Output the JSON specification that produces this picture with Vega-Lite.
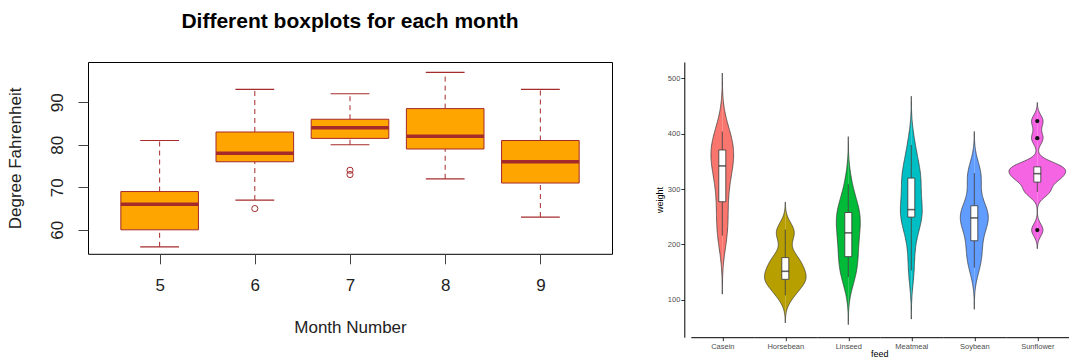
{
  "$schema": "https://vega.github.io/schema/vega-lite/v6.json",
  "padding": {"left": 5, "top": 10, "right": 0, "bottom": 0},
  "config": {
    "view": {"stroke": null},
    "font": "Liberation Sans",
    "axis": {"grid": false}
  },
  "datasets": {
    "airbox": [
      {"month": 5, "lower": 56, "q1": 60, "median": 66, "q3": 69, "upper": 81},
      {"month": 6, "lower": 67, "q1": 76, "median": 78, "q3": 83, "upper": 93},
      {"month": 7, "lower": 80, "q1": 81.5, "median": 84, "q3": 86, "upper": 92},
      {"month": 8, "lower": 72, "q1": 79, "median": 82, "q3": 88.5, "upper": 97},
      {"month": 9, "lower": 63, "q1": 71, "median": 76, "q3": 81, "upper": 93}
    ],
    "airout": [
      {"month": 6, "temp": 65},
      {"month": 7, "temp": 73},
      {"month": 7, "temp": 74}
    ],
    "chick": [
      {"feed": "Horsebean", "weight": 179}, {"feed": "Horsebean", "weight": 160}, {"feed": "Horsebean", "weight": 136}, {"feed": "Horsebean", "weight": 227}, {"feed": "Horsebean", "weight": 217},
      {"feed": "Horsebean", "weight": 168}, {"feed": "Horsebean", "weight": 108}, {"feed": "Horsebean", "weight": 124}, {"feed": "Horsebean", "weight": 143}, {"feed": "Horsebean", "weight": 140},
      {"feed": "Linseed", "weight": 309}, {"feed": "Linseed", "weight": 229}, {"feed": "Linseed", "weight": 181}, {"feed": "Linseed", "weight": 141}, {"feed": "Linseed", "weight": 260}, {"feed": "Linseed", "weight": 203},
      {"feed": "Linseed", "weight": 148}, {"feed": "Linseed", "weight": 169}, {"feed": "Linseed", "weight": 213}, {"feed": "Linseed", "weight": 257}, {"feed": "Linseed", "weight": 244}, {"feed": "Linseed", "weight": 271},
      {"feed": "Soybean", "weight": 243}, {"feed": "Soybean", "weight": 230}, {"feed": "Soybean", "weight": 248}, {"feed": "Soybean", "weight": 327}, {"feed": "Soybean", "weight": 329}, {"feed": "Soybean", "weight": 250}, {"feed": "Soybean", "weight": 193},
      {"feed": "Soybean", "weight": 271}, {"feed": "Soybean", "weight": 316}, {"feed": "Soybean", "weight": 267}, {"feed": "Soybean", "weight": 199}, {"feed": "Soybean", "weight": 171}, {"feed": "Soybean", "weight": 158}, {"feed": "Soybean", "weight": 248},
      {"feed": "Sunflower", "weight": 423}, {"feed": "Sunflower", "weight": 340}, {"feed": "Sunflower", "weight": 392}, {"feed": "Sunflower", "weight": 339}, {"feed": "Sunflower", "weight": 341}, {"feed": "Sunflower", "weight": 226},
      {"feed": "Sunflower", "weight": 320}, {"feed": "Sunflower", "weight": 295}, {"feed": "Sunflower", "weight": 334}, {"feed": "Sunflower", "weight": 322}, {"feed": "Sunflower", "weight": 297}, {"feed": "Sunflower", "weight": 318},
      {"feed": "Meatmeal", "weight": 325}, {"feed": "Meatmeal", "weight": 257}, {"feed": "Meatmeal", "weight": 303}, {"feed": "Meatmeal", "weight": 315}, {"feed": "Meatmeal", "weight": 380}, {"feed": "Meatmeal", "weight": 153},
      {"feed": "Meatmeal", "weight": 263}, {"feed": "Meatmeal", "weight": 242}, {"feed": "Meatmeal", "weight": 206}, {"feed": "Meatmeal", "weight": 344}, {"feed": "Meatmeal", "weight": 258},
      {"feed": "Casein", "weight": 368}, {"feed": "Casein", "weight": 390}, {"feed": "Casein", "weight": 379}, {"feed": "Casein", "weight": 260}, {"feed": "Casein", "weight": 404}, {"feed": "Casein", "weight": 318},
      {"feed": "Casein", "weight": 352}, {"feed": "Casein", "weight": 359}, {"feed": "Casein", "weight": 216}, {"feed": "Casein", "weight": 222}, {"feed": "Casein", "weight": 283}, {"feed": "Casein", "weight": 332}
    ]
  },
  "bounds": "flush",
  "spacing": 78.8,
  "hconcat": [
    {
      "width": 524,
      "height": 191.8,
      "view": {"stroke": "black", "strokeWidth": 1},
      "title": {"text": "Different boxplots for each month", "fontSize": 21, "fontWeight": "bold", "font": "Liberation Sans", "color": "black", "frame": "group", "anchor": "middle", "baseline": "alphabetic", "offset": 13},
      "encoding": {
        "x": {"field": "month", "type": "quantitative", "title": "Month Number",
          "scale": {"domain": [4.3, 9.7], "nice": false, "zero": false},
          "axis": {"values": [5, 6, 7, 8, 9], "domain": false, "tickSize": 10, "tickColor": "#444", "labelFontSize": 17, "labelColor": "#222", "labelPadding": 14, "labelFlush": false, "titleFontSize": 17, "titleFontWeight": "normal", "titleColor": "#222", "titlePadding": 26}}
      },
      "layer": [
        {"data": {"name": "airbox"},
          "mark": {"type": "rule", "color": "#A52A2A", "strokeDash": [5, 4], "strokeWidth": 1},
          "encoding": {
            "y": {"field": "q3", "type": "quantitative", "title": "Degree Fahrenheit",
              "scale": {"domain": [54.36, 99.46], "nice": false, "zero": false},
              "axis": {"values": [60, 70, 80, 90], "domain": false, "tickSize": 10, "tickColor": "#444", "labelAngle": -90, "labelAlign": "center", "labelBaseline": "alphabetic", "labelPadding": 16, "labelFontSize": 17, "labelColor": "#222", "titleFontSize": 17, "titleFontWeight": "normal", "titleColor": "#222", "titlePadding": 24}},
            "y2": {"field": "upper"}}},
        {"data": {"name": "airbox"},
          "mark": {"type": "rule", "color": "#A52A2A", "strokeDash": [5, 4], "strokeWidth": 1},
          "encoding": {"y": {"field": "lower", "type": "quantitative", "title": "Degree Fahrenheit"}, "y2": {"field": "q1"}}},
        {"data": {"name": "airbox"},
          "mark": {"type": "bar", "width": 77.6, "fill": "#FFA500", "stroke": "#A52A2A", "strokeWidth": 1, "opacity": 1},
          "encoding": {"y": {"field": "q1", "type": "quantitative", "title": "Degree Fahrenheit"}, "y2": {"field": "q3"}}},
        {"data": {"name": "airbox"},
          "mark": {"type": "tick", "orient": "horizontal", "size": 77.6, "thickness": 3.5, "color": "#A52A2A", "opacity": 1},
          "encoding": {"y": {"field": "median", "type": "quantitative", "title": "Degree Fahrenheit"}}},
        {"data": {"name": "airbox"},
          "mark": {"type": "tick", "orient": "horizontal", "size": 38.8, "thickness": 1.2, "color": "#A52A2A", "opacity": 1},
          "encoding": {"y": {"field": "upper", "type": "quantitative", "title": "Degree Fahrenheit"}}},
        {"data": {"name": "airbox"},
          "mark": {"type": "tick", "orient": "horizontal", "size": 38.8, "thickness": 1.2, "color": "#A52A2A", "opacity": 1},
          "encoding": {"y": {"field": "lower", "type": "quantitative", "title": "Degree Fahrenheit"}}},
        {"data": {"name": "airout"},
          "mark": {"type": "point", "shape": "circle", "filled": false, "size": 38, "stroke": "#A52A2A", "strokeWidth": 1, "opacity": 1},
          "encoding": {"y": {"field": "temp", "type": "quantitative", "title": "Degree Fahrenheit"}}}
      ]
    },
    {
      "data": {"name": "chick"},
      "bounds": "flush",
      "spacing": 0,
      "title": {"text": "feed", "orient": "bottom", "fontSize": 9, "fontWeight": "normal", "color": "black", "font": "Liberation Sans", "offset": 0, "anchor": "middle", "frame": "group", "dx": 189},
      "hconcat": [
        {
          "width": 63, "height": 275.2,
          "transform": [{"filter": "datum.feed == 'Casein'"}],
          "resolve": {"scale": {"x": "independent"}},
          "layer": [
            {"transform": [{"density": "weight", "bandwidth": 35.28, "extent": [110.2, 509.8], "steps": 200}],
              "mark": {"type": "area", "orient": "horizontal", "color": "#F8766D", "opacity": 1},
              "encoding": {
                "y": {"field": "value", "type": "quantitative", "title": "weight", "scale": {"domain": [32.4, 529.8], "nice": false, "zero": false},
                  "axis": {"values": [100, 200, 300, 400, 500], "offset": 6.5, "domainColor": "black", "domainWidth": 1, "tickColor": "#333", "tickSize": 3.5, "labelFontSize": 7.5, "labelColor": "#4d4d4d", "labelPadding": 1, "titleFontSize": 9, "titleFontWeight": "normal", "titleColor": "black", "titlePadding": 3}},
                "x": {"field": "density", "type": "quantitative", "stack": null, "title": "Casein", "scale": {"domain": [-0.0165, 0.0165], "nice": false, "zero": false},
                  "axis": {"values": [0], "labels": false, "tickSize": 3.5, "tickColor": "#333", "domainColor": "black", "domainWidth": 1, "titleFontSize": 7.5, "titleColor": "#4d4d4d", "titleFontWeight": "normal", "titlePadding": 1}}}},
            {"transform": [{"density": "weight", "bandwidth": 35.28, "extent": [110.2, 509.8], "steps": 200}],
              "mark": {"type": "area", "orient": "horizontal", "color": "#F8766D", "opacity": 1},
              "encoding": {"y": {"field": "value", "type": "quantitative"}, "x": {"field": "density", "type": "quantitative", "stack": null, "scale": {"domain": [-0.0165, 0.0165], "nice": false, "zero": false, "reverse": true}, "axis": null}}},
            {"transform": [{"density": "weight", "bandwidth": 35.28, "extent": [110.2, 509.8], "steps": 200}],
              "mark": {"type": "line", "color": "#333333", "strokeWidth": 0.7},
              "encoding": {"y": {"field": "value", "type": "quantitative"}, "x": {"field": "density", "type": "quantitative", "scale": {"domain": [-0.0165, 0.0165], "nice": false, "zero": false}, "axis": null}, "order": {"field": "value", "type": "quantitative"}}},
            {"transform": [{"density": "weight", "bandwidth": 35.28, "extent": [110.2, 509.8], "steps": 200}],
              "mark": {"type": "line", "color": "#333333", "strokeWidth": 0.7},
              "encoding": {"y": {"field": "value", "type": "quantitative"}, "x": {"field": "density", "type": "quantitative", "scale": {"domain": [-0.0165, 0.0165], "nice": false, "zero": false, "reverse": true}, "axis": null}, "order": {"field": "value", "type": "quantitative"}}},
            {"mark": {"type": "boxplot", "extent": 1.5, "size": 7, "box": {"fill": "white", "stroke": "#333333", "strokeWidth": 0.8}, "median": {"color": "#222222", "thickness": 1.6}, "rule": {"color": "#333333", "strokeWidth": 0.8}, "outliers": {"color": "#111111", "filled": true, "size": 18, "opacity": 1}},
              "encoding": {"y": {"field": "weight", "type": "quantitative"}}}
          ]
        },
        {
          "width": 63, "height": 275.2,
          "transform": [{"filter": "datum.feed == 'Horsebean'"}],
          "resolve": {"scale": {"x": "independent"}},
          "layer": [
            {"transform": [{"density": "weight", "bandwidth": 16.63, "extent": [58.1, 276.9], "steps": 200}],
              "mark": {"type": "area", "orient": "horizontal", "color": "#B79F00", "opacity": 1},
              "encoding": {
                "y": {"field": "value", "type": "quantitative", "scale": {"domain": [32.4, 529.8], "nice": false, "zero": false}, "axis": null},
                "x": {"field": "density", "type": "quantitative", "stack": null, "title": "Horsebean", "scale": {"domain": [-0.0165, 0.0165], "nice": false, "zero": false},
                  "axis": {"values": [0], "labels": false, "tickSize": 3.5, "tickColor": "#333", "domainColor": "black", "domainWidth": 1, "titleFontSize": 7.5, "titleColor": "#4d4d4d", "titleFontWeight": "normal", "titlePadding": 1}}}},
            {"transform": [{"density": "weight", "bandwidth": 16.63, "extent": [58.1, 276.9], "steps": 200}],
              "mark": {"type": "area", "orient": "horizontal", "color": "#B79F00", "opacity": 1},
              "encoding": {"y": {"field": "value", "type": "quantitative"}, "x": {"field": "density", "type": "quantitative", "stack": null, "scale": {"domain": [-0.0165, 0.0165], "nice": false, "zero": false, "reverse": true}, "axis": null}}},
            {"transform": [{"density": "weight", "bandwidth": 16.63, "extent": [58.1, 276.9], "steps": 200}],
              "mark": {"type": "line", "color": "#333333", "strokeWidth": 0.7},
              "encoding": {"y": {"field": "value", "type": "quantitative"}, "x": {"field": "density", "type": "quantitative", "scale": {"domain": [-0.0165, 0.0165], "nice": false, "zero": false}, "axis": null}, "order": {"field": "value", "type": "quantitative"}}},
            {"transform": [{"density": "weight", "bandwidth": 16.63, "extent": [58.1, 276.9], "steps": 200}],
              "mark": {"type": "line", "color": "#333333", "strokeWidth": 0.7},
              "encoding": {"y": {"field": "value", "type": "quantitative"}, "x": {"field": "density", "type": "quantitative", "scale": {"domain": [-0.0165, 0.0165], "nice": false, "zero": false, "reverse": true}, "axis": null}, "order": {"field": "value", "type": "quantitative"}}},
            {"mark": {"type": "boxplot", "extent": 1.5, "size": 7, "box": {"fill": "white", "stroke": "#333333", "strokeWidth": 0.8}, "median": {"color": "#222222", "thickness": 1.6}, "rule": {"color": "#333333", "strokeWidth": 0.8}, "outliers": {"color": "#111111", "filled": true, "size": 18, "opacity": 1}},
              "encoding": {"y": {"field": "weight", "type": "quantitative"}}}
          ]
        },
        {
          "width": 63, "height": 275.2,
          "transform": [{"filter": "datum.feed == 'Linseed'"}],
          "resolve": {"scale": {"x": "independent"}},
          "layer": [
            {"transform": [{"density": "weight", "bandwidth": 28.62, "extent": [55.1, 394.9], "steps": 200}],
              "mark": {"type": "area", "orient": "horizontal", "color": "#00BA38", "opacity": 1},
              "encoding": {
                "y": {"field": "value", "type": "quantitative", "scale": {"domain": [32.4, 529.8], "nice": false, "zero": false}, "axis": null},
                "x": {"field": "density", "type": "quantitative", "stack": null, "title": "Linseed", "scale": {"domain": [-0.0165, 0.0165], "nice": false, "zero": false},
                  "axis": {"values": [0], "labels": false, "tickSize": 3.5, "tickColor": "#333", "domainColor": "black", "domainWidth": 1, "titleFontSize": 7.5, "titleColor": "#4d4d4d", "titleFontWeight": "normal", "titlePadding": 1}}}},
            {"transform": [{"density": "weight", "bandwidth": 28.62, "extent": [55.1, 394.9], "steps": 200}],
              "mark": {"type": "area", "orient": "horizontal", "color": "#00BA38", "opacity": 1},
              "encoding": {"y": {"field": "value", "type": "quantitative"}, "x": {"field": "density", "type": "quantitative", "stack": null, "scale": {"domain": [-0.0165, 0.0165], "nice": false, "zero": false, "reverse": true}, "axis": null}}},
            {"transform": [{"density": "weight", "bandwidth": 28.62, "extent": [55.1, 394.9], "steps": 200}],
              "mark": {"type": "line", "color": "#333333", "strokeWidth": 0.7},
              "encoding": {"y": {"field": "value", "type": "quantitative"}, "x": {"field": "density", "type": "quantitative", "scale": {"domain": [-0.0165, 0.0165], "nice": false, "zero": false}, "axis": null}, "order": {"field": "value", "type": "quantitative"}}},
            {"transform": [{"density": "weight", "bandwidth": 28.62, "extent": [55.1, 394.9], "steps": 200}],
              "mark": {"type": "line", "color": "#333333", "strokeWidth": 0.7},
              "encoding": {"y": {"field": "value", "type": "quantitative"}, "x": {"field": "density", "type": "quantitative", "scale": {"domain": [-0.0165, 0.0165], "nice": false, "zero": false, "reverse": true}, "axis": null}, "order": {"field": "value", "type": "quantitative"}}},
            {"mark": {"type": "boxplot", "extent": 1.5, "size": 7, "box": {"fill": "white", "stroke": "#333333", "strokeWidth": 0.8}, "median": {"color": "#222222", "thickness": 1.6}, "rule": {"color": "#333333", "strokeWidth": 0.8}, "outliers": {"color": "#111111", "filled": true, "size": 18, "opacity": 1}},
              "encoding": {"y": {"field": "weight", "type": "quantitative"}}}
          ]
        },
        {
          "width": 63, "height": 275.2,
          "transform": [{"filter": "datum.feed == 'Meatmeal'"}],
          "resolve": {"scale": {"x": "independent"}},
          "layer": [
            {"transform": [{"density": "weight", "bandwidth": 29.31, "extent": [65.1, 467.9], "steps": 200}],
              "mark": {"type": "area", "orient": "horizontal", "color": "#00BFC4", "opacity": 1},
              "encoding": {
                "y": {"field": "value", "type": "quantitative", "scale": {"domain": [32.4, 529.8], "nice": false, "zero": false}, "axis": null},
                "x": {"field": "density", "type": "quantitative", "stack": null, "title": "Meatmeal", "scale": {"domain": [-0.0165, 0.0165], "nice": false, "zero": false},
                  "axis": {"values": [0], "labels": false, "tickSize": 3.5, "tickColor": "#333", "domainColor": "black", "domainWidth": 1, "titleFontSize": 7.5, "titleColor": "#4d4d4d", "titleFontWeight": "normal", "titlePadding": 1}}}},
            {"transform": [{"density": "weight", "bandwidth": 29.31, "extent": [65.1, 467.9], "steps": 200}],
              "mark": {"type": "area", "orient": "horizontal", "color": "#00BFC4", "opacity": 1},
              "encoding": {"y": {"field": "value", "type": "quantitative"}, "x": {"field": "density", "type": "quantitative", "stack": null, "scale": {"domain": [-0.0165, 0.0165], "nice": false, "zero": false, "reverse": true}, "axis": null}}},
            {"transform": [{"density": "weight", "bandwidth": 29.31, "extent": [65.1, 467.9], "steps": 200}],
              "mark": {"type": "line", "color": "#333333", "strokeWidth": 0.7},
              "encoding": {"y": {"field": "value", "type": "quantitative"}, "x": {"field": "density", "type": "quantitative", "scale": {"domain": [-0.0165, 0.0165], "nice": false, "zero": false}, "axis": null}, "order": {"field": "value", "type": "quantitative"}}},
            {"transform": [{"density": "weight", "bandwidth": 29.31, "extent": [65.1, 467.9], "steps": 200}],
              "mark": {"type": "line", "color": "#333333", "strokeWidth": 0.7},
              "encoding": {"y": {"field": "value", "type": "quantitative"}, "x": {"field": "density", "type": "quantitative", "scale": {"domain": [-0.0165, 0.0165], "nice": false, "zero": false, "reverse": true}, "axis": null}, "order": {"field": "value", "type": "quantitative"}}},
            {"mark": {"type": "boxplot", "extent": 1.5, "size": 7, "box": {"fill": "white", "stroke": "#333333", "strokeWidth": 0.8}, "median": {"color": "#222222", "thickness": 1.6}, "rule": {"color": "#333333", "strokeWidth": 0.8}, "outliers": {"color": "#111111", "filled": true, "size": 18, "opacity": 1}},
              "encoding": {"y": {"field": "weight", "type": "quantitative"}}}
          ]
        },
        {
          "width": 63, "height": 275.2,
          "transform": [{"filter": "datum.feed == 'Soybean'"}],
          "resolve": {"scale": {"x": "independent"}},
          "layer": [
            {"transform": [{"density": "weight", "bandwidth": 25.06, "extent": [82.8, 404.2], "steps": 200}],
              "mark": {"type": "area", "orient": "horizontal", "color": "#619CFF", "opacity": 1},
              "encoding": {
                "y": {"field": "value", "type": "quantitative", "scale": {"domain": [32.4, 529.8], "nice": false, "zero": false}, "axis": null},
                "x": {"field": "density", "type": "quantitative", "stack": null, "title": "Soybean", "scale": {"domain": [-0.0165, 0.0165], "nice": false, "zero": false},
                  "axis": {"values": [0], "labels": false, "tickSize": 3.5, "tickColor": "#333", "domainColor": "black", "domainWidth": 1, "titleFontSize": 7.5, "titleColor": "#4d4d4d", "titleFontWeight": "normal", "titlePadding": 1}}}},
            {"transform": [{"density": "weight", "bandwidth": 25.06, "extent": [82.8, 404.2], "steps": 200}],
              "mark": {"type": "area", "orient": "horizontal", "color": "#619CFF", "opacity": 1},
              "encoding": {"y": {"field": "value", "type": "quantitative"}, "x": {"field": "density", "type": "quantitative", "stack": null, "scale": {"domain": [-0.0165, 0.0165], "nice": false, "zero": false, "reverse": true}, "axis": null}}},
            {"transform": [{"density": "weight", "bandwidth": 25.06, "extent": [82.8, 404.2], "steps": 200}],
              "mark": {"type": "line", "color": "#333333", "strokeWidth": 0.7},
              "encoding": {"y": {"field": "value", "type": "quantitative"}, "x": {"field": "density", "type": "quantitative", "scale": {"domain": [-0.0165, 0.0165], "nice": false, "zero": false}, "axis": null}, "order": {"field": "value", "type": "quantitative"}}},
            {"transform": [{"density": "weight", "bandwidth": 25.06, "extent": [82.8, 404.2], "steps": 200}],
              "mark": {"type": "line", "color": "#333333", "strokeWidth": 0.7},
              "encoding": {"y": {"field": "value", "type": "quantitative"}, "x": {"field": "density", "type": "quantitative", "scale": {"domain": [-0.0165, 0.0165], "nice": false, "zero": false, "reverse": true}, "axis": null}, "order": {"field": "value", "type": "quantitative"}}},
            {"mark": {"type": "boxplot", "extent": 1.5, "size": 7, "box": {"fill": "white", "stroke": "#333333", "strokeWidth": 0.8}, "median": {"color": "#222222", "thickness": 1.6}, "rule": {"color": "#333333", "strokeWidth": 0.8}, "outliers": {"color": "#111111", "filled": true, "size": 18, "opacity": 1}},
              "encoding": {"y": {"field": "weight", "type": "quantitative"}}}
          ]
        },
        {
          "width": 63, "height": 275.2,
          "transform": [{"filter": "datum.feed == 'Sunflower'"}],
          "resolve": {"scale": {"x": "independent"}},
          "layer": [
            {"transform": [{"density": "weight", "bandwidth": 11.24, "extent": [192.3, 456.7], "steps": 200}],
              "mark": {"type": "area", "orient": "horizontal", "color": "#F564E3", "opacity": 1},
              "encoding": {
                "y": {"field": "value", "type": "quantitative", "scale": {"domain": [32.4, 529.8], "nice": false, "zero": false}, "axis": null},
                "x": {"field": "density", "type": "quantitative", "stack": null, "title": "Sunflower", "scale": {"domain": [-0.0165, 0.0165], "nice": false, "zero": false},
                  "axis": {"values": [0], "labels": false, "tickSize": 3.5, "tickColor": "#333", "domainColor": "black", "domainWidth": 1, "titleFontSize": 7.5, "titleColor": "#4d4d4d", "titleFontWeight": "normal", "titlePadding": 1}}}},
            {"transform": [{"density": "weight", "bandwidth": 11.24, "extent": [192.3, 456.7], "steps": 200}],
              "mark": {"type": "area", "orient": "horizontal", "color": "#F564E3", "opacity": 1},
              "encoding": {"y": {"field": "value", "type": "quantitative"}, "x": {"field": "density", "type": "quantitative", "stack": null, "scale": {"domain": [-0.0165, 0.0165], "nice": false, "zero": false, "reverse": true}, "axis": null}}},
            {"transform": [{"density": "weight", "bandwidth": 11.24, "extent": [192.3, 456.7], "steps": 200}],
              "mark": {"type": "line", "color": "#333333", "strokeWidth": 0.7},
              "encoding": {"y": {"field": "value", "type": "quantitative"}, "x": {"field": "density", "type": "quantitative", "scale": {"domain": [-0.0165, 0.0165], "nice": false, "zero": false}, "axis": null}, "order": {"field": "value", "type": "quantitative"}}},
            {"transform": [{"density": "weight", "bandwidth": 11.24, "extent": [192.3, 456.7], "steps": 200}],
              "mark": {"type": "line", "color": "#333333", "strokeWidth": 0.7},
              "encoding": {"y": {"field": "value", "type": "quantitative"}, "x": {"field": "density", "type": "quantitative", "scale": {"domain": [-0.0165, 0.0165], "nice": false, "zero": false, "reverse": true}, "axis": null}, "order": {"field": "value", "type": "quantitative"}}},
            {"mark": {"type": "boxplot", "extent": 1.5, "size": 7, "box": {"fill": "white", "stroke": "#333333", "strokeWidth": 0.8}, "median": {"color": "#222222", "thickness": 1.6}, "rule": {"color": "#333333", "strokeWidth": 0.8}, "outliers": {"color": "#111111", "filled": true, "size": 18, "opacity": 1}},
              "encoding": {"y": {"field": "weight", "type": "quantitative"}}}
          ]
        }
      ]
    }
  ]
}
